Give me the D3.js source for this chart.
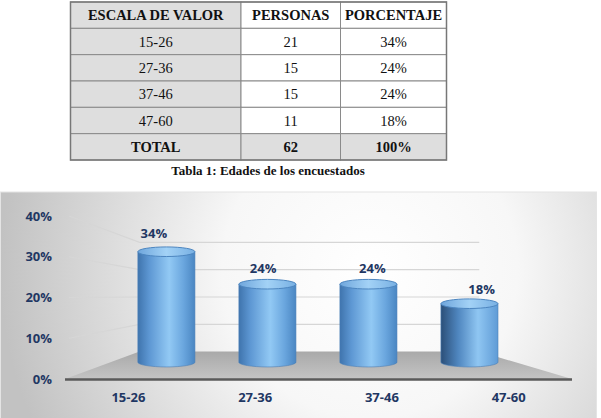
<!DOCTYPE html>
<html>
<head>
<meta charset="utf-8">
<script src="https://cdn.jsdelivr.net/npm/d3@7"></script>
<style>
  body { margin: 0; background: #fff; }
  svg { display: block; }
</style>
</head>
<body>
<div id="chart"></div>
<script>
// data
let headers = ['ESCALA DE VALOR', 'PERSONAS', 'PORCENTAJE'];
let categories = ['15-26', '27-36', '37-46', '47-60'];
let personas = [21, 15, 15, 11];
let percents = [34, 24, 24, 18];
let totalRow = ['TOTAL', '62', '100%'];
let yTicks = [0, 10, 20, 30, 40];
let caption = 'Tabla 1: Edades de los encuestados';

let width = 601;
let height = 418;

let svg = d3.select('#chart')
  .append('svg')
  .attr('width', width)
  .attr('height', height);

let defs = svg.append('defs');

// ---------- table ----------
let colX = d3.scaleOrdinal().domain([0, 1, 2]).range([70.5, 241, 340.5]);
let colW = [170.5, 99.5, 106];
let rowY = d3.scaleLinear().domain([0, 6]).range([2, 160]);

let tableRows = [headers].concat(categories.map((c, i) => [c, String(personas[i]), percents[i] + '%'])).concat([totalRow]);

let table = svg.append('g');
tableRows.forEach((row, r) => {
  row.forEach((txt, c) => {
    let gray = c === 0 || r === tableRows.length - 1;
    table.append('rect')
      .attr('x', colX(c))
      .attr('y', rowY(r))
      .attr('width', colW[c])
      .attr('height', rowY(r + 1) - rowY(r))
      .attr('fill', gray ? '#dedede' : '#fff')
      .attr('stroke', '#8a8a8a')
      .attr('stroke-width', 1);
    table.append('text')
      .attr('x', colX(c) + colW[c] / 2)
      .attr('y', (rowY(r) + rowY(r + 1)) / 2 + 5)
      .attr('text-anchor', 'middle')
      .style('font-family', '"Liberation Serif", "Times New Roman", serif')
      .style('font-size', '14.5px')
      .style('font-weight', (r === 0 || r === tableRows.length - 1) ? 'bold' : 'normal')
      .style('fill', '#111')
      .text(txt);
  });
});
table.append('rect')
  .attr('x', 70.5).attr('y', 2)
  .attr('width', 376).attr('height', 158)
  .attr('fill', 'none')
  .attr('stroke', '#777')
  .attr('stroke-width', 1.5);

svg.append('text')
  .attr('x', 268)
  .attr('y', 175)
  .attr('text-anchor', 'middle')
  .style('font-family', '"Liberation Serif", "Times New Roman", serif')
  .style('font-size', '13px')
  .style('font-weight', 'bold')
  .style('fill', '#111')
  .text(caption);

// ---------- chart ----------
let bg = defs.append('radialGradient')
  .attr('id', 'bg')
  .attr('gradientUnits', 'userSpaceOnUse')
  .attr('cx', 370).attr('cy', 270).attr('r', 370);
bg.append('stop').attr('offset', 0).attr('stop-color', '#ffffff');
bg.append('stop').attr('offset', 0.4).attr('stop-color', '#f7f7f7');
bg.append('stop').attr('offset', 1).attr('stop-color', '#c2c2c2');

svg.append('rect')
  .attr('x', 0.5).attr('y', 192)
  .attr('width', 596).attr('height', 230)
  .attr('fill', 'url(#bg)')
  .attr('stroke', '#e4e4e4');

// front plane scales
let xFront = d3.scaleBand().domain(categories).range([65, 572]);
let yFront = d3.scaleLinear().domain([0, 40]).range([379, 216]);

// simple perspective toward a vanishing point
let vx = 291, vy = 296;
function proj(x, y, s, dx) {
  return [vx + s * (x - vx) + (dx || 0), vy + s * (y - vy)];
}
let backS = 0.67;
let barS = 0.797;
let labelS = 0.862;

let x0 = xFront.range()[0], x1 = xFront.range()[1];

// floor
let floorPts = [
  [x0, yFront(0)], [x1, yFront(0)],
  proj(x1, yFront(0), backS), proj(x0, yFront(0), backS)
];
let floorGrad = defs.append('linearGradient')
  .attr('id', 'floor').attr('x1', 0).attr('x2', 0).attr('y1', 0).attr('y2', 1);
floorGrad.append('stop').attr('offset', 0).attr('stop-color', '#a9a9a9');
floorGrad.append('stop').attr('offset', 1).attr('stop-color', '#c4c4c4');
svg.append('path')
  .attr('d', 'M' + floorPts.join('L') + 'Z')
  .attr('fill', 'url(#floor)');

// side wall and back wall gridlines
yTicks.filter(v => v > 0).forEach(v => {
  let a = [x0 + 4, yFront(v)];
  let b = proj(x0, yFront(v), backS);
  let c = proj(x1, yFront(v), backS);
  svg.append('path')
    .attr('d', 'M' + [a, b, c].join('L'))
    .attr('fill', 'none')
    .attr('stroke', '#d6d6d6')
    .attr('stroke-width', 1.2);
});

// front edge
svg.append('line')
  .attr('x1', x0).attr('x2', x1)
  .attr('y1', yFront(0) + 0.5).attr('y2', yFront(0) + 0.5)
  .attr('stroke', '#5a5a5a')
  .attr('stroke-width', 2.5);

// cylinders
let cyl = defs.append('linearGradient')
  .attr('id', 'cyl').attr('x1', 0).attr('x2', 1).attr('y1', 0).attr('y2', 0);
cyl.append('stop').attr('offset', 0).attr('stop-color', '#3f74ad');
cyl.append('stop').attr('offset', 0.2).attr('stop-color', '#5d97d3');
cyl.append('stop').attr('offset', 0.55).attr('stop-color', '#92c9f4');
cyl.append('stop').attr('offset', 0.8).attr('stop-color', '#6aa6de');
cyl.append('stop').attr('offset', 1).attr('stop-color', '#4a86c2');

let cylDark = defs.append('linearGradient')
  .attr('id', 'cylDark').attr('x1', 0).attr('x2', 1).attr('y1', 0).attr('y2', 0);
cylDark.append('stop').attr('offset', 0).attr('stop-color', '#2b4f78');
cylDark.append('stop').attr('offset', 0.3).attr('stop-color', '#4f86bf');
cylDark.append('stop').attr('offset', 0.65).attr('stop-color', '#8fc6f2');
cylDark.append('stop').attr('offset', 1).attr('stop-color', '#5f9bd6');

let topGrad = defs.append('linearGradient')
  .attr('id', 'cylTop').attr('x1', 0).attr('x2', 1).attr('y1', 0).attr('y2', 0);
topGrad.append('stop').attr('offset', 0).attr('stop-color', '#6fa6dc');
topGrad.append('stop').attr('offset', 0.5).attr('stop-color', '#a3d2f6');
topGrad.append('stop').attr('offset', 1).attr('stop-color', '#78b0e3');

let barW = xFront.bandwidth() * barS * 0.565;
let ry = 4.8;

let bars = svg.selectAll('g.bar')
  .data(percents)
  .enter()
  .append('g')
  .attr('class', 'bar');

bars.each(function (v, i) {
  let g = d3.select(this);
  let cx = xFront(categories[i]) + xFront.bandwidth() / 2;
  let base = proj(cx, yFront(0), barS, 5);
  let top = proj(cx, yFront(v), barS, 5);
  let l = base[0] - barW / 2, r = base[0] + barW / 2;
  g.append('path')
    .attr('d', `M${l},${top[1]} L${l},${base[1]} A${barW / 2},${ry} 0 0 0 ${r},${base[1]} L${r},${top[1]} Z`)
    .attr('fill', i === 3 ? 'url(#cylDark)' : 'url(#cyl)')
    .attr('stroke', '#4a7fb8')
    .attr('stroke-width', 0.6);
  g.append('ellipse')
    .attr('cx', top[0]).attr('cy', top[1])
    .attr('rx', barW / 2).attr('ry', ry)
    .attr('fill', 'url(#cylTop)')
    .attr('stroke', '#4d86c0')
    .attr('stroke-width', 1);
});

// data labels
let labelFont = '"Open Sans", "DejaVu Sans", sans-serif';
svg.selectAll('text.dl')
  .data(percents)
  .enter()
  .append('text')
  .attr('class', 'dl')
  .attr('x', (d, i) => proj(xFront(categories[i]) + xFront.bandwidth() / 2, yFront(d), labelS, 3)[0])
  .attr('y', (d, i) => proj(xFront(categories[i]) + xFront.bandwidth() / 2, yFront(d), labelS, 3)[1] - 10)
  .attr('text-anchor', 'middle')
  .style('font-family', labelFont)
  .style('font-size', '13px')
  .style('font-weight', 'bold')
  .style('fill', '#1f3763')
  .text(d => d + '%');

// y axis
let yAxis = svg.append('g')
  .attr('transform', `translate(${x0 - 11},0)`)
  .call(d3.axisLeft(yFront).tickValues(yTicks).tickFormat(d => d + '%').tickSize(0).tickPadding(2));
yAxis.select('.domain').remove();
yAxis.selectAll('text')
  .style('font-family', labelFont)
  .style('font-size', '13px')
  .style('font-weight', 'bold')
  .style('fill', '#1f3763');

// x axis
let xAxis = svg.append('g')
  .attr('transform', `translate(0,${yFront(0) + 12})`)
  .call(d3.axisBottom(xFront).tickSize(0).tickPadding(2));
xAxis.select('.domain').remove();
xAxis.selectAll('text')
  .style('font-family', labelFont)
  .style('font-size', '13px')
  .style('font-weight', 'bold')
  .style('fill', '#1f3763');
</script>
</body>
</html>
